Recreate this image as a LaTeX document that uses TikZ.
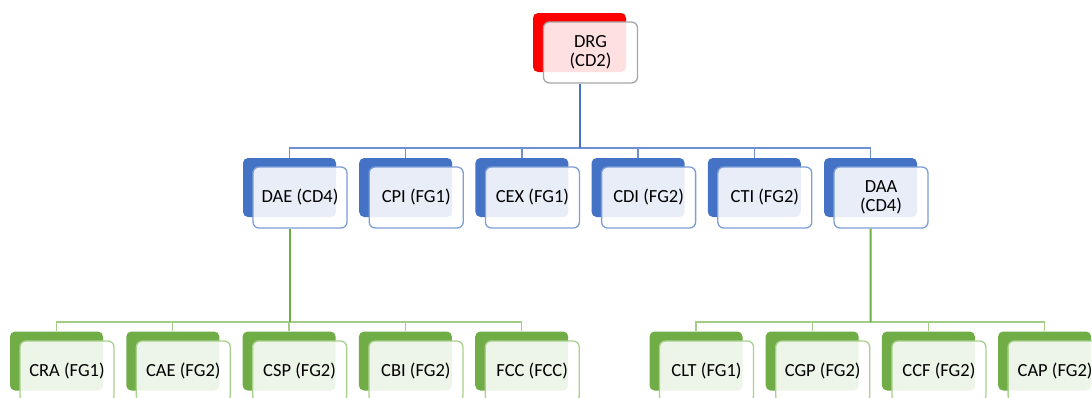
\documentclass[tikz,border=0pt]{standalone}
\usepackage{fontspec}
\setmainfont{Carlito}
\definecolor{bluedark}{HTML}{4472C4}
\definecolor{blueline}{HTML}{6F8FD3}
\definecolor{bluefront}{HTML}{7E9ED8}
\definecolor{greendark}{HTML}{70AD47}
\definecolor{greenline}{HTML}{A3CC87}
\definecolor{greenfront}{HTML}{A9D18E}
\definecolor{reddark}{HTML}{FF0000}
\definecolor{grayfront}{HTML}{A6A6A6}
\tikzset{
  backbox/.style={rectangle, rounded corners=5pt, minimum width=93pt, minimum height=59pt, inner sep=0pt},
  frontbox/.style={rectangle, rounded corners=6pt, minimum width=94pt, minimum height=61pt, inner sep=0pt,
     line width=1.3pt, align=center, font=\fontsize{18.5}{19.5}\selectfont, text=black,
     fill=white, fill opacity=0.88, draw opacity=1, text opacity=1},
  backblue/.style={backbox, fill=bluedark},
  frontblue/.style={frontbox, draw=bluefront},
  backgreen/.style={backbox, fill=greendark},
  frontgreen/.style={frontbox, draw=greenfront},
  backred/.style={backbox, fill=reddark},
  frontred/.style={frontbox, draw=grayfront},
  trunkblue/.style={draw=bluedark, line width=2pt},
  branchblue/.style={draw=blueline, line width=1.3pt},
  trunkgreen/.style={draw=greendark, line width=2pt},
  branchgreen/.style={draw=greenline, line width=1.3pt},
}
\begin{document}
\begin{tikzpicture}[x=1pt,y=-1pt]
\useasboundingbox (0,0) rectangle (1092,397);
\clip (0,0) rectangle (1092,397);
\fill[white] (0,0) rectangle (1092,397);

% junction coordinates
\coordinate (j1) at (579.5,148);
\coordinate (j2) at (289.5,322);
\coordinate (j3) at (870.5,322);

% top
\node[backred] (drgb) at (579.5,42.5) {};
\node[frontred] (drg) at (590.5,52.5) {DRG\\(CD2)};

% level 2
\foreach \n/\t [count=\i from 0] in {dae/DAE (CD4), cpi/CPI (FG1), cex/CEX (FG1), cdi/CDI (FG2), cti/CTI (FG2), daa/DAA\\(CD4)} {
  \node[backblue] (\n b) at ({289.5+116.2*\i},187.5) {};
  \node[frontblue] (\n) at ({300+116.2*\i},197.5) {\t};
}

% level 3 left
\foreach \n/\t [count=\i from 0] in {cra/CRA (FG1), cae/CAE (FG2), csp/CSP (FG2), cbi/CBI (FG2), fcc/FCC (FCC)} {
  \node[backgreen] (\n b) at ({56.5+116.3*\i},361) {};
  \node[frontgreen] (\n) at ({67+116.3*\i},371.5) {\t};
}
% level 3 right
\foreach \n/\t [count=\i from 0] in {clt/CLT (FG1), cgp/CGP (FG2), ccf/CCF (FG2), cap/CAP (FG2)} {
  \node[backgreen] (\n b) at ({696+116.2*\i},361) {};
  \node[frontgreen] (\n) at ({706.5+116.2*\i},371.5) {\t};
}

% connectors level 1
\draw[branchblue] (daeb.north) -- (daeb.north |- j1) -- (daab.north |- j1) -- (daab.north);
\foreach \n in {cpi,cex,cdi,cti} \draw[branchblue] (\n b.north |- j1) -- (\n b.north);
\draw[trunkblue] (drgb.center |- drg.south) -- (j1);

% connectors level 2 left
\draw[branchgreen] (crab.north) -- (crab.north |- j2) -- (fccb.north |- j2) -- (fccb.north);
\foreach \n in {cae,csp,cbi} \draw[branchgreen] (\n b.north |- j2) -- (\n b.north);
\draw[trunkgreen] (daeb.center |- dae.south) -- (j2);

% connectors level 2 right
\draw[branchgreen] (cltb.north) -- (cltb.north |- j3) -- (capb.north |- j3) -- (capb.north);
\foreach \n in {cgp,ccf} \draw[branchgreen] (\n b.north |- j3) -- (\n b.north);
\draw[trunkgreen] (daab.center |- daa.south) -- (j3);
\end{tikzpicture}
\end{document}
